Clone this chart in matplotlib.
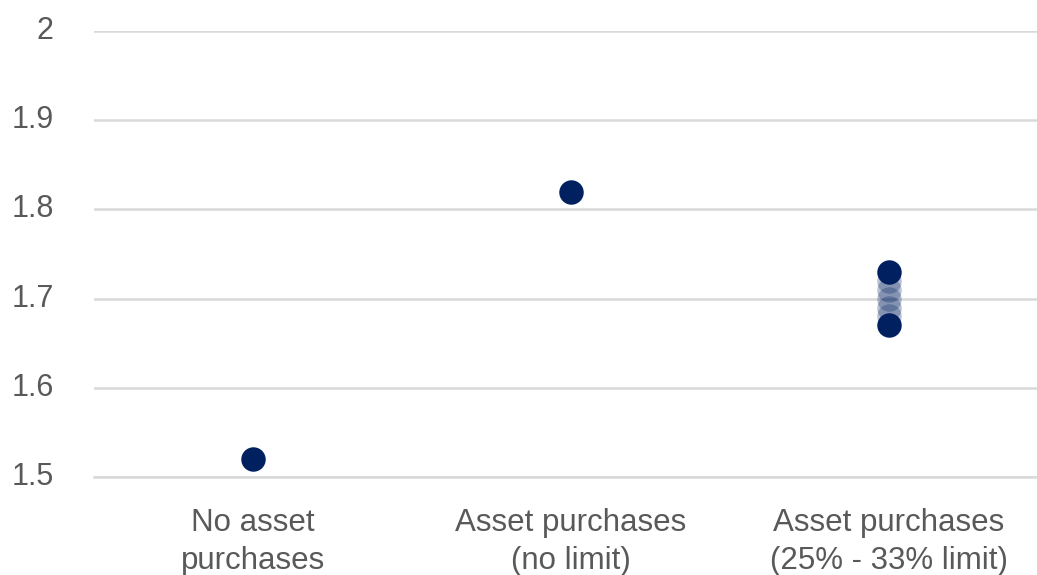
import matplotlib
matplotlib.use("Agg")
import matplotlib.pyplot as plt

categories = ["No asset\npurchases", "Asset purchases\n(no limit)", "Asset purchases\n(25% - 33% limit)"]
# Outcome values per scenario; the range scenario spans its lower and upper bound
point_values = [1.52, 1.82, None]
range_bounds = [1.67, 1.73]
range_steps = [1.68, 1.69, 1.70, 1.71, 1.72]
y_ticks = [1.5, 1.6, 1.7, 1.8, 1.9, 2.0]
y_tick_labels = ["1.5", "1.6", "1.7", "1.8", "1.9", "2"]

plt.rcParams["font.family"] = ["Liberation Sans", "DejaVu Sans"]
navy = "#002060"
grey_text = "#595959"

fig = plt.figure(figsize=(10.37, 5.75), dpi=100)
ax = fig.add_axes([0.0906, 0.1704, 0.92, 0.7757])

xs = [i + 0.5 for i in range(len(categories))]
for x, v in zip(xs, point_values):
    if v is not None:
        ax.scatter([x], [v], s=310, color=navy, zorder=3, linewidths=0)

x3 = xs[2]
ax.scatter([x3] * len(range_steps), range_steps, s=310, color=navy, alpha=0.28,
           zorder=3, linewidths=0)
ax.scatter([x3] * len(range_bounds), range_bounds, s=310, color=navy, zorder=4, linewidths=0)

ax.set_xlim(0, 3)
ax.set_ylim(1.5, 2.0)
ax.set_yticks(y_ticks)
ax.set_yticklabels(y_tick_labels)
ax.set_xticks(xs)
ax.set_xticklabels(categories, linespacing=1.38)

ax.grid(axis="y", color="#d9d9d9", linewidth=1.8)
ax.set_axisbelow(True)
for s in ["top", "right", "left"]:
    ax.spines[s].set_visible(False)
ax.spines["bottom"].set_color("#d9d9d9")
ax.spines["bottom"].set_linewidth(1.8)

ax.tick_params(axis="y", length=0, pad=29, labelsize=22, labelcolor=grey_text)
ax.tick_params(axis="x", length=0, pad=22, labelsize=22.5, labelcolor=grey_text)
for lbl in ax.get_yticklabels():
    lbl.set_verticalalignment("center")

fig.savefig("out.png", dpi=100)
